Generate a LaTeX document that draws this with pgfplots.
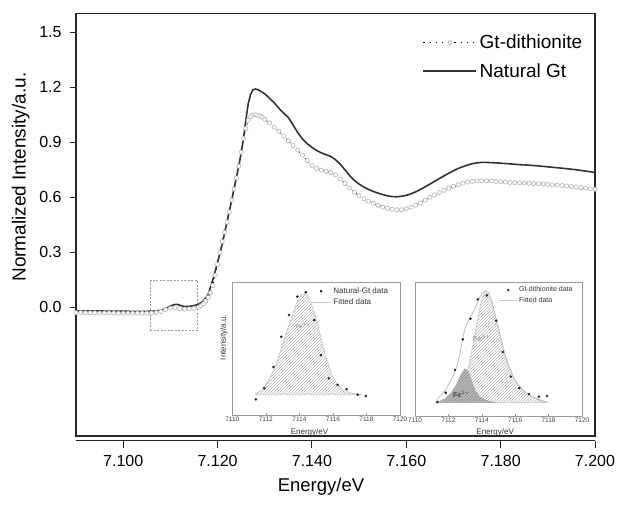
\documentclass[border=0pt]{standalone}
\usepackage{fontspec}
\setmainfont{Liberation Sans}
\usepackage{pgfplots}
\pgfplotsset{compat=1.18}
\usetikzlibrary{patterns}

\pgfplotstableread{
E v
7.090 -0.018
7.094 -0.019
7.098 -0.020
7.102 -0.021
7.105 -0.021
7.107 -0.019
7.108 -0.015
7.109 -0.006
7.110 0.008
7.111 0.017
7.1115 0.017
7.112 0.012
7.113 0.005
7.114 0.006
7.115 0.010
7.116 0.018
7.117 0.035
7.118 0.070
7.119 0.150
7.120 0.245
7.121 0.345
7.122 0.465
7.123 0.585
7.124 0.710
7.1245 0.770
7.125 0.840
7.1255 0.920
7.126 1.020
7.1265 1.110
7.127 1.160
7.1275 1.185
7.128 1.190
7.1285 1.187
7.129 1.180
7.130 1.164
7.131 1.140
7.132 1.115
7.133 1.085
7.134 1.058
7.135 1.035
7.136 0.995
7.137 0.952
7.138 0.918
7.139 0.892
7.140 0.872
7.141 0.855
7.142 0.842
7.143 0.832
7.144 0.822
7.145 0.805
7.146 0.780
7.147 0.750
7.148 0.718
7.149 0.692
7.150 0.672
7.151 0.656
7.152 0.643
7.153 0.632
7.154 0.623
7.155 0.615
7.156 0.608
7.157 0.604
7.158 0.603
7.159 0.606
7.160 0.611
7.161 0.619
7.162 0.630
7.163 0.643
7.164 0.657
7.165 0.672
7.166 0.687
7.167 0.702
7.168 0.717
7.169 0.731
7.170 0.745
7.171 0.757
7.172 0.767
7.173 0.776
7.174 0.783
7.175 0.788
7.176 0.790
7.177 0.790
7.178 0.789
7.180 0.786
7.182 0.782
7.184 0.778
7.186 0.775
7.188 0.771
7.190 0.766
7.192 0.761
7.194 0.756
7.196 0.750
7.198 0.743
7.200 0.735
}\natural

\pgfplotstableread{
E v
7.090 -0.028
7.091 -0.028
7.092 -0.029
7.093 -0.029
7.094 -0.029
7.095 -0.030
7.096 -0.030
7.097 -0.030
7.098 -0.030
7.099 -0.031
7.100 -0.031
7.101 -0.031
7.102 -0.031
7.103 -0.031
7.104 -0.031
7.105 -0.031
7.106 -0.030
7.107 -0.028
7.108 -0.022
7.109 -0.012
7.110 -0.004
7.111 -0.002
7.112 -0.006
7.113 -0.009
7.114 -0.008
7.115 -0.005
7.116 0.002
7.1165 0.010
7.117 0.020
7.1175 0.035
7.118 0.055
7.1185 0.080
7.119 0.120
7.1195 0.175
7.120 0.235
7.1205 0.300
7.121 0.360
7.1215 0.410
7.122 0.465
7.1225 0.520
7.123 0.585
7.1235 0.645
7.124 0.705
7.1245 0.770
7.125 0.845
7.1255 0.920
7.126 0.975
7.1265 1.020
7.127 1.040
7.1275 1.048
7.128 1.050
7.1285 1.048
7.129 1.042
7.1295 1.035
7.130 1.025
7.131 1.005
7.132 0.982
7.133 0.960
7.134 0.934
7.135 0.908
7.136 0.882
7.137 0.857
7.138 0.830
7.139 0.800
7.140 0.773
7.141 0.757
7.142 0.748
7.143 0.741
7.144 0.735
7.145 0.722
7.146 0.700
7.147 0.675
7.148 0.650
7.149 0.628
7.150 0.608
7.151 0.593
7.152 0.580
7.153 0.568
7.154 0.556
7.155 0.547
7.156 0.540
7.157 0.535
7.158 0.532
7.159 0.532
7.160 0.537
7.161 0.546
7.162 0.557
7.163 0.570
7.164 0.585
7.165 0.600
7.166 0.613
7.167 0.626
7.168 0.638
7.169 0.650
7.170 0.660
7.171 0.669
7.172 0.677
7.173 0.683
7.174 0.687
7.175 0.689
7.176 0.690
7.177 0.690
7.178 0.689
7.179 0.687
7.180 0.685
7.181 0.683
7.182 0.681
7.183 0.680
7.184 0.679
7.185 0.678
7.186 0.677
7.187 0.675
7.188 0.674
7.189 0.672
7.190 0.670
7.191 0.668
7.192 0.666
7.193 0.664
7.194 0.662
7.195 0.659
7.196 0.656
7.197 0.653
7.198 0.650
7.199 0.647
7.200 0.644
}\dithionite

\begin{document}
\begin{tikzpicture}
\useasboundingbox (-76pt,-68pt) rectangle (541pt,436pt);

% offset bottom x axis
\begin{axis}[at={(0pt,-4.7pt)}, anchor=south west, scale only axis,
  width=519pt, height=422.3pt,
  xmin=7.090, xmax=7.200, ymin=-0.7, ymax=1.6,
  hide y axis, axis x line*=bottom,
  axis line style={black!85, line width=1.1pt},
  xtick={7.1,7.12,7.14,7.16,7.18,7.2},
  xticklabels={7.100,7.120,7.140,7.160,7.180,7.200},
  tick align=outside, major tick length=7pt,
  tick style={black!85, line width=1pt},
  xticklabel style={font=\fontsize{16}{18}\selectfont, anchor=base, inner sep=0pt, yshift=-18.4pt},
]
\end{axis}

% main axis
\begin{axis}[at={(0pt,0pt)}, anchor=south west, scale only axis,
  width=519pt, height=422.3pt,
  xmin=7.090, xmax=7.200, ymin=-0.7, ymax=1.6,
  axis line style={black!85, line width=1.1pt},
  xtick=\empty,
  ytick={0,0.3,0.6,0.9,1.2,1.5},
  yticklabels={0.0,0.3,0.6,0.9,1.2,1.5},
  ytick pos=left, tick align=outside, major tick length=6pt,
  tick style={black!85, line width=1pt},
  yticklabel style={font=\fontsize{16}{18}\selectfont, anchor=east, inner sep=0pt, xshift=-8.3pt},
  xlabel={Energy/eV},
  xlabel style={font=\fontsize{18.5}{21}\selectfont, at={(axis description cs:0.472,-0.1190)}, anchor=center},
  ylabel={Normalized Intensity/a.u.},
  ylabel style={font=\fontsize{19}{22}\selectfont, at={(axis description cs:-0.1067,0.613)}, anchor=center},
  legend style={at={(axis description cs:0.6676,0.898)}, anchor=west, draw=none, fill=none,
    inner sep=0pt, font=\fontsize{19}{22}\selectfont,
    nodes={inner xsep=2.5pt, inner ysep=6.5pt}},
  legend cell align=left,
]
\addplot[forget plot, black, line width=1pt, dash pattern=on 1pt off 3.5pt,
  mark=*, mark size=2.1pt, mark options={solid, fill=white, draw=gray!60, line width=0.6pt}]
  table[x=E, y=v] {\dithionite};
\addplot[forget plot, black!80, line width=1.6pt] table[x=E, y=v] {\natural};
\draw[gray!80, line width=0.7pt, dash pattern=on 2pt off 1.5pt]
  (axis cs:7.1058,-0.127) rectangle (axis cs:7.1157,0.147);
\addlegendimage{legend image code/.code={
  \draw[black, line width=1.2pt, dash pattern=on 1.2pt off 5pt] (0pt,0pt) -- (53pt,0pt);
  \draw[gray!70, fill=white, line width=0.6pt] (26.5pt,0pt) circle (2pt);}}
\addlegendentry{Gt-dithionite}
\addlegendimage{legend image code/.code={
  \draw[black!80, line width=1.5pt] (0pt,0pt) -- (53pt,0pt);}}
\addlegendentry{Natural Gt}
\end{axis}

% inset 1
\begin{axis}[at={(156.3pt,21pt)}, anchor=south west, scale only axis,
  width=167.7pt, height=132.3pt,
  xmin=7110, xmax=7120, ymin=0, ymax=1,
  axis line style={gray!80, line width=0.5pt},
  xtick={7110,7112,7114,7116,7118,7120},
  xticklabels={7110,7112,7114,7116,7118,7120},
  ytick=\empty, xtick pos=bottom, tick align=inside, major tick length=2pt,
  tick style={gray!80, line width=0.4pt},
  xticklabel style={font=\fontsize{6.5}{7}\selectfont, text=black!75, inner sep=1pt, yshift=-1pt},
  xlabel={Energy/eV},
  xlabel style={font=\fontsize{8}{9}\selectfont, text=black!80, at={(axis description cs:0.46,-0.128)}, anchor=center},
  ylabel={Intensity/a.u.},
  ylabel style={font=\fontsize{8}{9}\selectfont, text=black!80, at={(axis description cs:-0.05,0.586)}, anchor=center},
  legend style={at={(axis description cs:0.465,0.892)}, anchor=west, draw=none, fill=none,
    inner sep=0pt, font=\fontsize{8}{9}\selectfont, text=black!80,
    nodes={inner xsep=1.5pt, inner ysep=2.2pt}},
  legend cell align=left,
]
\addplot[forget plot, draw=gray!45, line width=0.7pt, pattern=north east lines, pattern color=gray!60] coordinates {
(7111.4,0.152) (7111.4,0.160) (7111.8,0.195) (7112.2,0.265) (7112.6,0.38) (7113.0,0.53)
(7113.4,0.69) (7113.8,0.835) (7114.1,0.905) (7114.3,0.915) (7114.5,0.90) (7114.7,0.845)
(7115.0,0.73) (7115.3,0.575) (7115.6,0.43) (7115.9,0.315) (7116.2,0.24) (7116.6,0.19)
(7117.0,0.168) (7117.4,0.158) (7117.8,0.152)} -- cycle;
\addplot[forget plot, only marks, mark=*, mark size=1.1pt, black!85] coordinates {
(7111.40,0.118) (7111.90,0.202) (7112.46,0.363) (7112.92,0.592) (7113.38,0.756)
(7113.88,0.894) (7114.38,0.927) (7114.88,0.718) (7115.28,0.453) (7115.76,0.277)
(7116.28,0.227) (7116.82,0.196) (7117.48,0.154) (7117.96,0.144)};
\node[font=\fontsize{5.5}{6}\selectfont, text=gray] at (axis cs:7114.26,0.675) {Fe$^{3+}$};
\addlegendimage{legend image code/.code={\fill[black!85] (10.3pt,0pt) circle (1.1pt);}}
\addlegendentry{Natural-Gt data}
\addlegendimage{legend image code/.code={\draw[gray!45, line width=0.8pt] (0pt,0pt) -- (20.6pt,0pt);}}
\addlegendentry{Fitted data}
\end{axis}

% inset 2
\begin{axis}[at={(339pt,20pt)}, anchor=south west, scale only axis,
  width=167pt, height=133.3pt,
  xmin=7110, xmax=7120, ymin=0, ymax=1,
  axis line style={gray!80, line width=0.5pt},
  xtick={7110,7112,7114,7116,7118,7120},
  xticklabels={7110,7112,7114,7116,7118,7120},
  ytick=\empty, xtick pos=bottom, tick align=inside, major tick length=2pt,
  tick style={gray!80, line width=0.4pt},
  xticklabel style={font=\fontsize{6.5}{7}\selectfont, text=black!75, inner sep=1pt, yshift=-1pt},
  xlabel={Energy/eV},
  xlabel style={font=\fontsize{8}{9}\selectfont, text=black!80, at={(axis description cs:0.48,-0.122)}, anchor=center},
  legend style={at={(axis description cs:0.50,0.905)}, anchor=west, draw=none, fill=none,
    inner sep=0pt, font=\fontsize{7}{8}\selectfont, text=black!80,
    nodes={inner xsep=1.5pt, inner ysep=2pt}},
  legend cell align=left,
]
\addplot[forget plot, draw=gray!45, line width=0.6pt, pattern=north east lines, pattern color=gray!60] coordinates {
(7111.3,0.10) (7112.0,0.12) (7112.5,0.17) (7112.9,0.25) (7113.2,0.36) (7113.5,0.55)
(7113.8,0.76) (7114.0,0.88) (7114.2,0.935) (7114.4,0.925) (7114.6,0.86) (7114.8,0.76)
(7115.0,0.655) (7115.3,0.50) (7115.6,0.375) (7115.9,0.29) (7116.2,0.23) (7116.6,0.17)
(7117.0,0.14) (7117.5,0.115) (7117.9,0.10)} -- cycle;
\addplot[forget plot, draw=gray!60, line width=0.5pt, fill=gray!55] coordinates {
(7111.3,0.10) (7111.8,0.13) (7112.2,0.18) (7112.5,0.24) (7112.8,0.32) (7113.0,0.355)
(7113.2,0.33) (7113.4,0.26) (7113.6,0.19) (7113.9,0.14) (7114.3,0.115) (7114.8,0.10)} -- cycle;
\addplot[forget plot, draw=none, pattern=north east lines, pattern color=gray!85] coordinates {
(7111.3,0.10) (7111.8,0.13) (7112.2,0.18) (7112.5,0.24) (7112.8,0.32) (7113.0,0.355)
(7113.2,0.33) (7113.4,0.26) (7113.6,0.19) (7113.9,0.14) (7114.3,0.115) (7114.8,0.10)} -- cycle;
\addplot[forget plot, gray!50, line width=0.8pt] coordinates {
(7111.3,0.125) (7111.6,0.16) (7111.9,0.21) (7112.2,0.28) (7112.5,0.37) (7112.7,0.47)
(7112.85,0.58) (7113.0,0.66) (7113.2,0.72) (7113.4,0.76) (7113.6,0.81) (7113.8,0.87)
(7114.0,0.92) (7114.2,0.94) (7114.4,0.925) (7114.6,0.86) (7114.8,0.76) (7115.0,0.655)
(7115.3,0.50) (7115.6,0.375) (7115.9,0.29) (7116.2,0.23) (7116.6,0.18) (7117.0,0.15)
(7117.5,0.12) (7117.9,0.105)};
\addplot[forget plot, only marks, mark=*, mark size=1.1pt, black!85] coordinates {
(7111.34,0.105) (7111.84,0.175) (7112.40,0.345) (7112.86,0.575) (7113.32,0.730)
(7113.76,0.875) (7114.30,0.905) (7114.86,0.715) (7115.26,0.480) (7115.74,0.295)
(7116.24,0.210) (7116.82,0.165) (7117.42,0.145) (7117.90,0.150)};
\node[font=\fontsize{7}{8}\selectfont, text=gray] at (axis cs:7114.0,0.58) {Fe$^{3+}$};
\node[font=\bfseries\fontsize{7}{8}\selectfont, text=black!75] at (axis cs:7112.8,0.16) {Fe$^{2+}$};
\addlegendimage{legend image code/.code={\fill[black!85] (9.2pt,0pt) circle (1pt);}}
\addlegendentry{Gt-dithionite data}
\addlegendimage{legend image code/.code={\draw[gray!45, line width=0.7pt] (0pt,0pt) -- (18.3pt,0pt);}}
\addlegendentry{Fitted data}
\end{axis}
\end{tikzpicture}
\end{document}
